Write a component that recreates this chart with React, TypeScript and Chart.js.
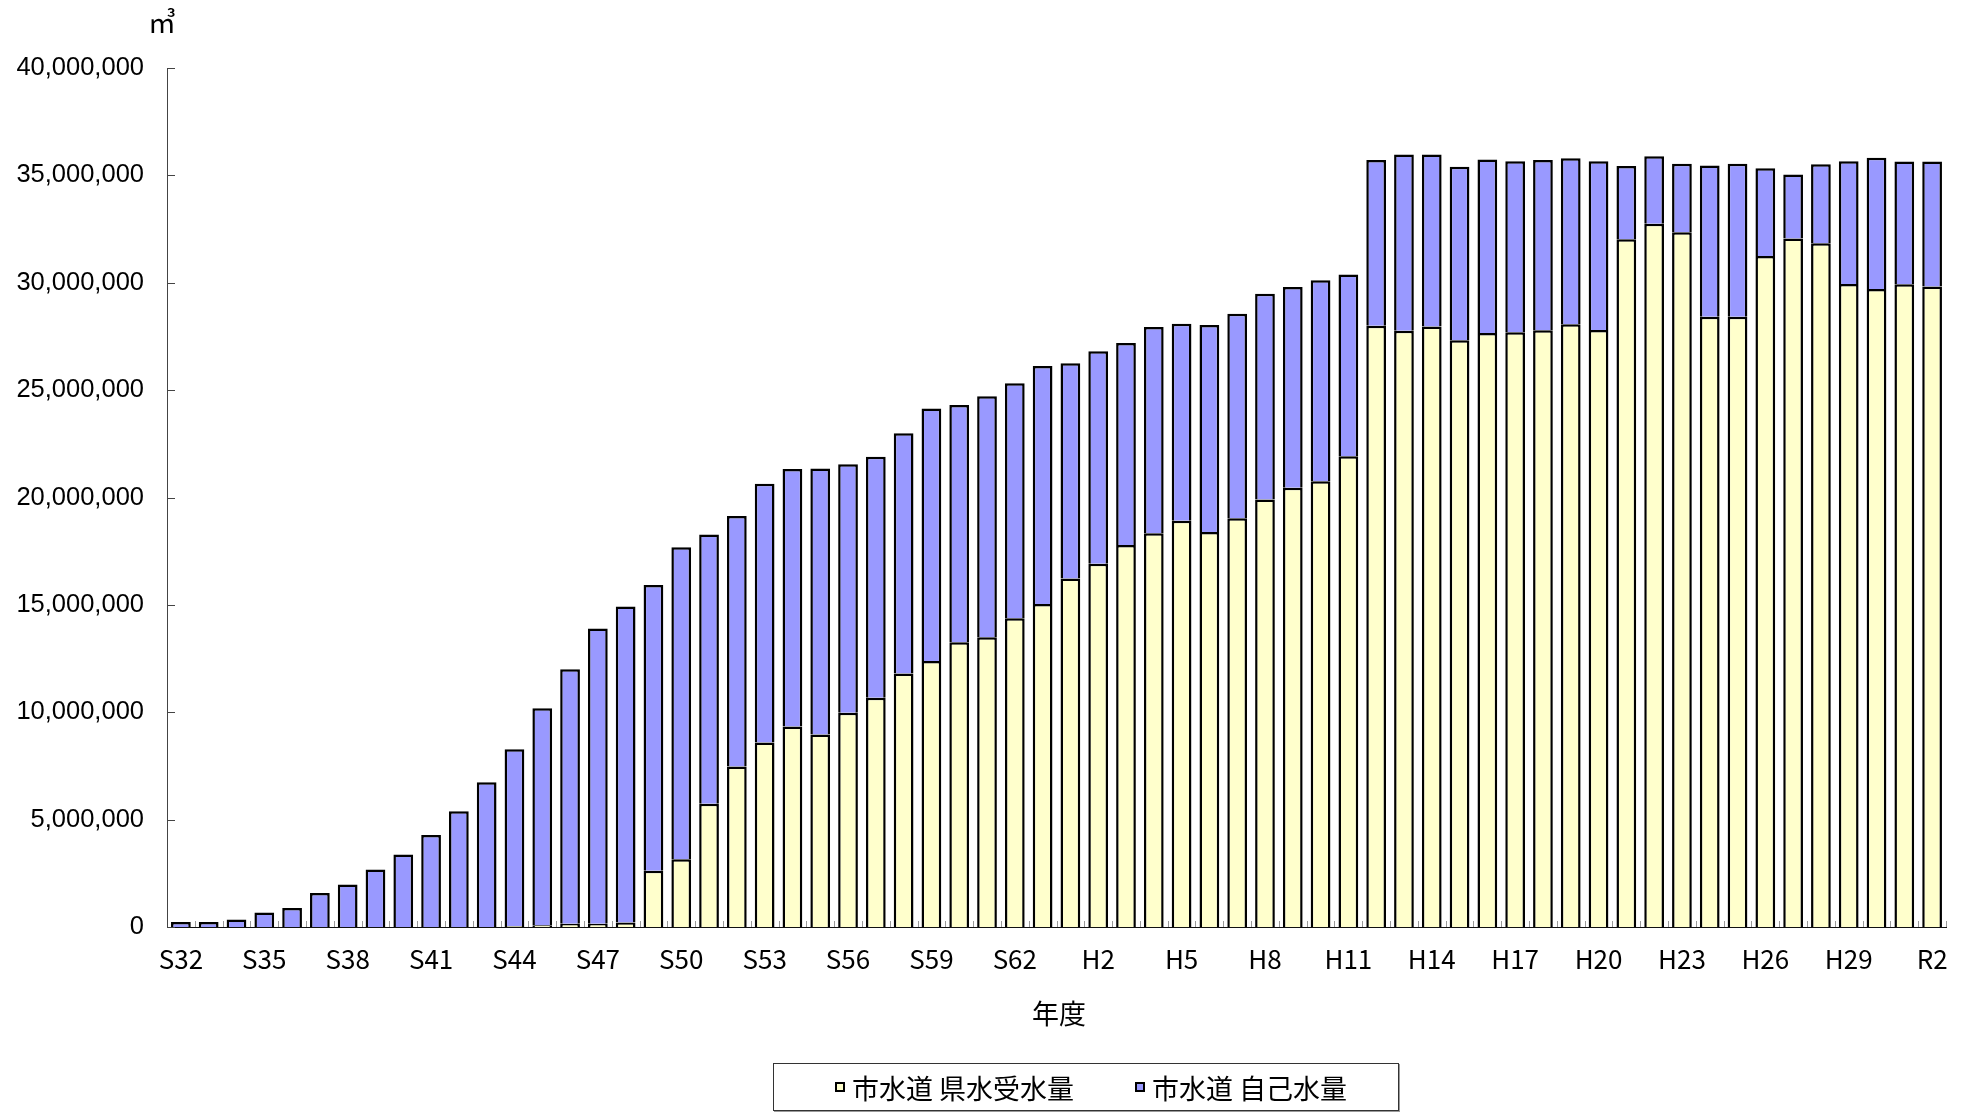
import React, { useEffect, useRef } from "react";
import { Chart, registerables } from "chart.js";

Chart.register(...registerables);

const categories: string[] = [
  "S32", "S33", "S34", "S35", "S36", "S37", "S38", "S39", "S40", "S41",
  "S42", "S43", "S44", "S45", "S46", "S47", "S48", "S49", "S50", "S51",
  "S52", "S53", "S54", "S55", "S56", "S57", "S58", "S59", "S60", "S61",
  "S62", "S63", "H1", "H2", "H3", "H4", "H5", "H6", "H7", "H8",
  "H9", "H10", "H11", "H12", "H13", "H14", "H15", "H16", "H17", "H18",
  "H19", "H20", "H21", "H22", "H23", "H24", "H25", "H26", "H27", "H28",
  "H29", "H30", "R1", "R2",
];

const xTickLabels: string[] = [
  "S32", "S35", "S38", "S41", "S44", "S47", "S50", "S53", "S56", "S59",
  "S62", "H2", "H5", "H8", "H11", "H14", "H17", "H20", "H23", "H26",
  "H29", "R2",
];

// 市水道 県水受水量 (m3)
const prefWater: number[] = [
  0, 0, 0, 0, 0, 0, 0, 0, 0, 0,
  0, 0, 50000, 80000, 150000, 150000, 210000, 2620000, 3150000, 5740000,
  7470000, 8590000, 9340000, 8960000, 9980000, 10680000, 11800000, 12390000, 13260000, 13490000,
  14380000, 15040000, 16230000, 16910000, 17790000, 18340000, 18920000, 18390000, 19030000, 19910000,
  20450000, 20760000, 21920000, 28000000, 27770000, 27960000, 27320000, 27660000, 27700000, 27790000,
  28070000, 27800000, 32030000, 32750000, 32350000, 28420000, 28420000, 31250000, 32060000, 31840000,
  29940000, 29710000, 29930000, 29820000,
];

// 市水道 自己水量 (m3)
const ownWater: number[] = [
  230000, 230000, 350000, 670000, 880000, 1580000, 1980000, 2680000, 3380000, 4280000,
  5390000, 6740000, 8230000, 10110000, 11850000, 13750000, 14710000, 13310000, 14530000, 12540000,
  11670000, 12050000, 11990000, 12390000, 11570000, 11220000, 11190000, 11760000, 11050000, 11230000,
  10940000, 11080000, 10020000, 9900000, 9400000, 9600000, 9170000, 9640000, 9530000, 9580000,
  9350000, 9360000, 8460000, 7720000, 8200000, 8010000, 8080000, 8080000, 7960000, 7930000,
  7730000, 7860000, 3410000, 3140000, 3190000, 7040000, 7120000, 4080000, 2980000, 3680000,
  5720000, 6110000, 5720000, 5830000,
];

const seriesNames: string[] = ["市水道 県水受水量", "市水道 自己水量"];
const seriesColors: string[] = ["#FFFFCC", "#9999FF"];

const yMin = 0;
const yMax = 40000000;
const yStep = 5000000;

const innerTicks = {
  id: "innerTicks",
  afterDraw(chart: any) {
    const ctx = chart.ctx;
    const xs = chart.scales.x;
    const ys = chart.scales.y;
    const area = chart.chartArea;
    ctx.save();
    ctx.lineWidth = 1;
    ctx.strokeStyle = "#444";
    ys.ticks.forEach((t: any) => {
      const py = Math.round(ys.getPixelForValue(t.value)) + 0.5;
      ctx.beginPath();
      ctx.moveTo(area.left, py);
      ctx.lineTo(area.left + 8, py);
      ctx.stroke();
    });
    ctx.strokeStyle = "#999";
    const n = categories.length;
    const sp = xs.getPixelForValue(1) - xs.getPixelForValue(0);
    for (let i = 1; i <= n; i++) {
      const px = Math.round(xs.getPixelForValue(i) - sp / 2) + 0.5;
      ctx.beginPath();
      ctx.moveTo(px, area.bottom);
      ctx.lineTo(px, area.bottom - 6);
      ctx.stroke();
    }
    ctx.restore();
  },
};

export default function App() {
  const canvasRef = useRef<HTMLCanvasElement | null>(null);

  useEffect(() => {
    if (!canvasRef.current) return;
    const chart = new Chart(canvasRef.current, {
      type: "bar",
      data: {
        labels: categories,
        datasets: [
          {
            label: seriesNames[0],
            data: prefWater,
            backgroundColor: seriesColors[0],
            borderColor: "#000",
            borderWidth: 2.5,
            barPercentage: 0.71,
            categoryPercentage: 1,
          },
          {
            label: seriesNames[1],
            data: ownWater,
            backgroundColor: seriesColors[1],
            borderColor: "#000",
            borderWidth: 2.5,
            barPercentage: 0.71,
            categoryPercentage: 1,
          },
        ],
      },
      options: {
        responsive: false,
        animation: false,
        devicePixelRatio: 1,
        layout: { padding: { left: 0, top: 68, right: 25, bottom: 0 } },
        plugins: {
          legend: { display: false },
          tooltip: { enabled: false },
          title: { display: false },
        },
        scales: {
          x: {
            stacked: true,
            grid: { display: false, drawTicks: false },
            border: { display: true, color: "#111", width: 1 },
            ticks: {
              autoSkip: false,
              maxRotation: 0,
              minRotation: 0,
              padding: 17,
              color: "#000",
              font: { family: "'Noto Sans CJK JP', sans-serif", size: 26 },
              callback: (_v: any, i: number) =>
                xTickLabels.includes(categories[i]) ? categories[i] : "",
            },
            afterFit: (s: any) => {
              s.height = 186;
            },
          },
          y: {
            stacked: true,
            min: yMin,
            max: yMax,
            grid: { display: false, drawTicks: false },
            border: { display: true, color: "#444", width: 1 },
            ticks: {
              stepSize: yStep,
              padding: 23,
              color: "#000",
              font: { family: "'Liberation Sans', Arial, sans-serif", size: 25.5 },
              callback: (v: any) => Number(v).toLocaleString("en-US"),
            },
            afterFit: (s: any) => {
              s.width = 167;
            },
          },
        },
      },
      plugins: [innerTicks],
    });
    return () => chart.destroy();
  }, []);

  const cjk = "'Noto Sans CJK JP', sans-serif";

  return (
    <div
      style={{
        position: "absolute",
        left: 0,
        top: 0,
        width: 1971,
        height: 1113,
        background: "#fff",
        overflow: "hidden",
      }}
    >
      <canvas ref={canvasRef} width={1971} height={1113} style={{ position: "absolute", left: 0, top: 0 }} />
      <div
        style={{
          position: "absolute",
          left: 148,
          top: 7,
          fontFamily: cjk,
          fontSize: 28,
          lineHeight: 1,
          color: "#000",
        }}
      >
        ㎥
      </div>
      <div
        style={{
          position: "absolute",
          left: 1059 - 60,
          width: 120,
          top: 999,
          textAlign: "center",
          fontFamily: cjk,
          fontSize: 27,
          lineHeight: 1,
          color: "#000",
        }}
      >
        年度
      </div>
      <div
        style={{
          position: "absolute",
          left: 773,
          top: 1063,
          width: 626,
          height: 48,
          boxSizing: "border-box",
          border: "1px solid #333",
          boxShadow: "1px 1px 0 #999",
          background: "#fff",
        }}
      >
        {seriesNames.map((name, i) => (
          <div
            key={name}
            style={{
              position: "absolute",
              left: i === 0 ? 61 : 361,
              top: 0,
              height: 46,
              display: "flex",
              alignItems: "center",
              fontFamily: cjk,
              fontSize: 27,
              lineHeight: 1,
              color: "#000",
              whiteSpace: "nowrap",
            }}
          >
            <span
              style={{
                display: "inline-block",
                width: 10,
                height: 10,
                boxSizing: "border-box",
                border: "2px solid #000",
                background: seriesColors[i],
                marginRight: 7,
              }}
            />
            <span>{name}</span>
          </div>
        ))}
      </div>
    </div>
  );
}
